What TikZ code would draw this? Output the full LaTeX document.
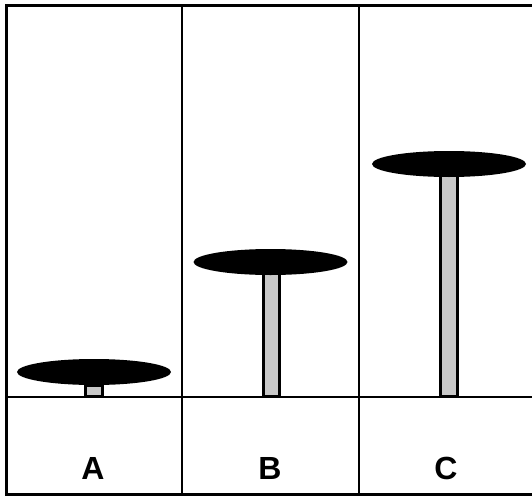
\documentclass[tikz,border=0pt]{standalone}
\usepackage{fontspec}
\setmainfont{Liberation Sans}
\definecolor{stemgray}{HTML}{C8C8C8}
\begin{document}
\begin{tikzpicture}[x=1pt,y=-1pt,
  frameline/.style={draw=black,line width=3pt},
  gridline/.style={draw=black,line width=2pt},
  stembox/.style={fill=stemgray,draw=black,line width=3pt},
  discfill/.style={fill=black},
  lbl/.style={font=\bfseries\fontsize{32}{38}\selectfont,inner sep=0pt}]
\useasboundingbox (0,0) rectangle (532,495);
% grid
\draw[gridline] (181.5,5.5) -- (181.5,494);
\draw[gridline] (359,5.5) -- (359,494);
\draw[gridline] (6.5,396.5) -- (535,396.5);
\draw[frameline] (6.5,5.5) rectangle (535,494);
% A
\draw[stembox] (85.5,385) rectangle (102.5,396.5);
\fill[discfill] (94,372) ellipse [x radius=77,y radius=13];
% B
\draw[stembox] (263,270) rectangle (279,396.5);
\fill[discfill] (270.5,262) ellipse [x radius=77,y radius=13];
% C
\draw[stembox] (440.5,172) rectangle (457.5,396.5);
\fill[discfill] (449,164) ellipse [x radius=77,y radius=13];
% labels
\node[lbl] (la) at (93,468) {A};
\node[lbl] (lb) at (270,468) {B};
\node[lbl] (lc) at (446,468) {C};
\end{tikzpicture}
\end{document}
